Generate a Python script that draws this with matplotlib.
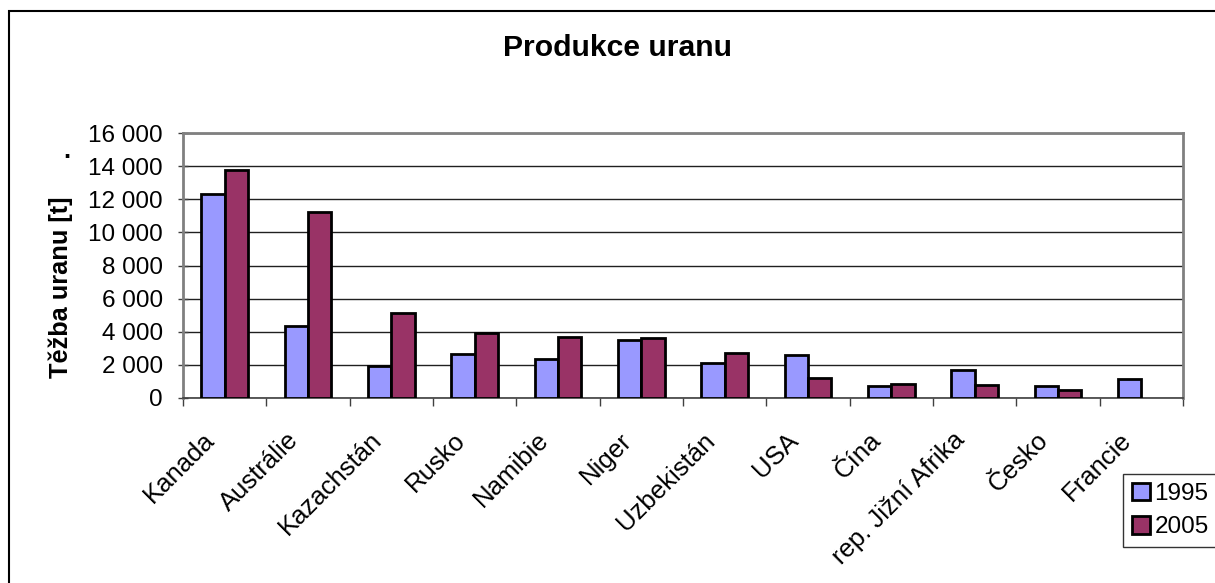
#!/usr/bin/env python3

import numpy as np
import matplotlib
matplotlib.use('Agg')
import matplotlib.pyplot as plt
from matplotlib.patches import Rectangle
from matplotlib.ticker import FuncFormatter
from matplotlib.transforms import ScaledTranslation

plt.rcParams['font.family'] = ['Liberation Sans', 'DejaVu Sans']

countries = ['Kanada', 'Austrálie', 'Kazachstán', 'Rusko', 'Namibie', 'Niger',
             'Uzbekistán', 'USA', 'Čína', 'rep. Jižní Afrika', 'Česko', 'Francie']
years     = ['1995', '2005']
prod_1995 = [12330, 4370, 1910, 2640, 2370, 3500, 2110, 2620, 700, 1690, 700, 1170]
prod_2005 = [13740, 11230, 5150, 3920, 3680, 3640, 2720, 1210, 820, 760, 460, 0]

colors = {'1995': '#9999FF',
          '2005': '#993366'}


# ------------------------------------------------------------------------------
#
def thousands(v, pos):
    return '{:,.0f}'.format(v).replace(',', ' ')


# ------------------------------------------------------------------------------
#
def main():

    fig = plt.figure(figsize=(12.15, 5.83), dpi=100)

    # outer chart frame
    fig.patches.append(Rectangle((9 / 1215, -0.1), 1.2, 1 - 11 / 583 + 0.1,
                                 transform=fig.transFigure, fill=False,
                                 edgecolor='#000000', linewidth=1.5))

    ax = fig.add_axes([183 / 1215, 1 - 398 / 583, 1000 / 1215, 265 / 583])

    x = np.arange(len(countries))
    w = 0.28
    for off, year, vals in ((-w / 2, '1995', prod_1995), (w / 2, '2005', prod_2005)):
        # empty entries get no outline
        lw = [2 if v else 0 for v in vals]
        ax.bar(x + off, vals, width=w, color=colors[year], edgecolor='black',
               linewidth=lw, label=year, zorder=3)

    ax.set_xlim(-0.5, len(countries) - 0.5)
    ax.set_ylim(0, 16000)
    ax.set_yticks(np.arange(0, 16001, 2000))
    ax.yaxis.set_major_formatter(FuncFormatter(thousands))
    ax.grid(axis='y', color='#202020', linewidth=1, zorder=0)

    # category ticks sit between the groups, names are placed by hand
    ax.set_xticks(np.arange(-0.5, len(countries)))
    ax.set_xticklabels([])
    ax.tick_params(axis='x', length=6, direction='out', color='#404040', width=1)
    shift = ScaledTranslation(-0.22, -0.30, fig.dpi_scale_trans)
    for xi, name in zip(x, countries):
        ax.text(xi, 0, name, transform=ax.get_xaxis_transform() + shift,
                rotation=45, ha='right', va='top', rotation_mode='anchor',
                fontsize=18.5)

    ax.tick_params(axis='y', length=7, direction='inout', color='#404040',
                   width=1, labelsize=17.5, pad=11)

    for side in ('top', 'right', 'left'):
        ax.spines[side].set_color('#808080')
        ax.spines[side].set_linewidth(2)
    ax.spines['bottom'].set_color('#404040')
    ax.spines['bottom'].set_linewidth(1.2)

    fig.text(61 / 1215, 1 - 287 / 583, 'Těžba uranu [t]', fontsize=18.3,
             fontweight='bold', rotation=90, ha='center', va='center')
    fig.text(67 / 1215, 1 - 158 / 583, '.', fontsize=18, fontweight='bold',
             ha='center', va='baseline')
    fig.text(0.508, 1 - 48 / 583, 'Produkce uranu', fontsize=21.7,
             fontweight='bold', ha='center', va='center')

    leg = fig.legend(loc='upper left', bbox_to_anchor=(1123 / 1215, 1 - 474 / 583),
                     fontsize=17.5, frameon=True, fancybox=False, handlelength=0.75,
                     handleheight=0.75, handletextpad=0.2, borderpad=0.35,
                     labelspacing=0.45, borderaxespad=0)
    leg.get_frame().set_edgecolor('#000000')
    leg.get_frame().set_linewidth(1)

    fig.savefig('out.png', dpi=100)


# ------------------------------------------------------------------------------
#
if __name__ == '__main__':

    main()


# ------------------------------------------------------------------------------
